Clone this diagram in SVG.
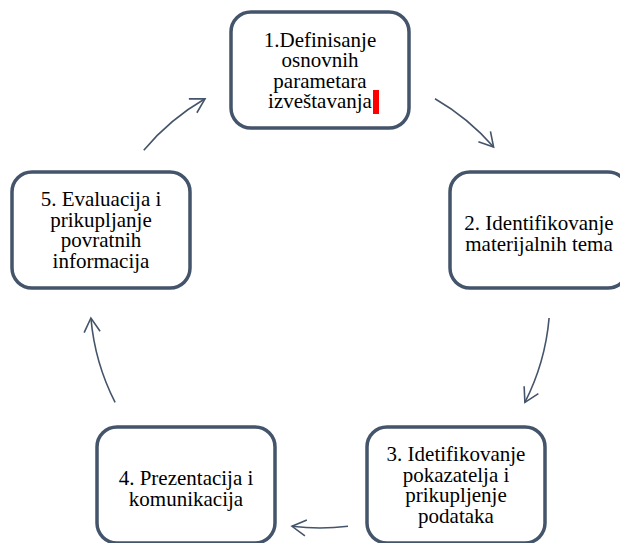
<svg xmlns="http://www.w3.org/2000/svg" width="620" height="543" viewBox="0 0 620 543">
<defs>
<style>
.node rect{fill:#ffffff;stroke:#44546a;stroke-width:3.5}
.node text{font-size:21px;fill:#000000;text-anchor:middle}
.conn path{fill:none;stroke:#44546a;stroke-width:1.6}
</style>
<marker id="arr" markerUnits="userSpaceOnUse" markerWidth="30" markerHeight="30" viewBox="-20 -15 30 30" refX="0" refY="0" orient="auto" overflow="visible">
<path d="M-14,-8 L0,0 L-14,8" fill="none" stroke="#44546a" stroke-width="1.6"/>
</marker>
</defs>
<rect width="620" height="543" fill="#ffffff"/>
<g id="connectors" class="conn">
<path d="M435,98.8 A230,230 0 0 1 493.6,147.1" marker-end="url(#arr)"/>
<path d="M549.1,318 A230,230 0 0 1 524.9,402.4" marker-end="url(#arr)"/>
<path d="M348,526.3 A230,230 0 0 1 292,526.3" marker-end="url(#arr)"/>
<path d="M115.1,402.4 A230,230 0 0 1 90.9,318" marker-end="url(#arr)"/>
<path d="M143.8,150.2 A230,230 0 0 1 205,98.8" marker-end="url(#arr)"/>
</g>
<g font-family="'Liberation Serif', 'Times New Roman', 'DejaVu Serif', serif">
<g id="node1" class="node">
<rect x="231" y="12" width="178" height="116" rx="20"/>
<text x="320" y="46.5">1.Definisanje</text>
<text x="320" y="67">osnovnih</text>
<text x="320" y="87.5">parametara</text>
<text x="320" y="108">izveštavanja</text>
<rect x="373" y="90" width="6" height="24" style="fill:#ff0000;stroke:none"/>
</g>
<g id="node2" class="node">
<rect x="450" y="172" width="178" height="116" rx="20"/>
<text x="539" y="230">2. Identifikovanje</text>
<text x="539" y="251">materijalnih tema</text>
</g>
<g id="node3" class="node">
<rect x="367" y="427" width="178" height="116" rx="20"/>
<text x="456" y="461">3. Idetifikovanje</text>
<text x="456" y="481.5">pokazatelja i</text>
<text x="456" y="502">prikupljenje</text>
<text x="456" y="522.5">podataka</text>
</g>
<g id="node4" class="node">
<rect x="97" y="427" width="178" height="116" rx="20"/>
<text x="186" y="485">4. Prezentacija i</text>
<text x="186" y="506">komunikacija</text>
</g>
<g id="node5" class="node">
<rect x="12" y="172" width="178" height="116" rx="20"/>
<text x="101" y="206">5. Evaluacija i</text>
<text x="101" y="226.5">prikupljanje</text>
<text x="101" y="247">povratnih</text>
<text x="101" y="267.5">informacija</text>
</g>
</g>
</svg>
